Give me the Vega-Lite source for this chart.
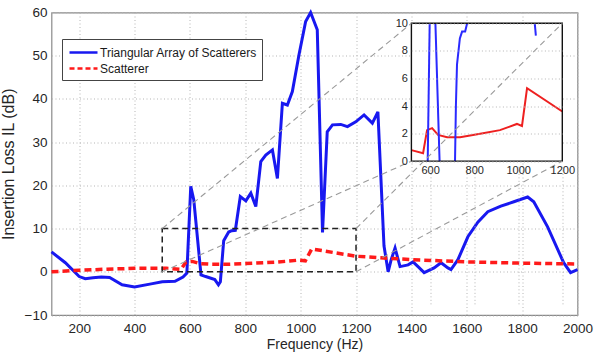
{
  "$schema": "https://vega.github.io/schema/vega-lite/v6.json",
  "width": 526,
  "height": 302.5,
  "autosize": "none",
  "padding": {"left": 51.5, "top": 12.5, "right": 18.5, "bottom": 43},
  "background": "white",
  "config": {
    "view": {"stroke": "#8a8a8a", "strokeWidth": 1.2},
    "font": "Liberation Sans",
    "axis": {
      "labelFont": "Liberation Sans",
      "titleFont": "Liberation Sans",
      "labelColor": "#262626",
      "titleColor": "#262626",
      "titleFontWeight": "normal",
      "gridColor": "#b5b5b5",
      "gridDash": [1, 2.5],
      "domain": false,
      "ticks": false
    }
  },
  "datasets": {
    "curves": [
      {"f": 100, "il": 4.6, "series": "Triangular Array of Scatterers"},
      {"f": 150, "il": 2.1, "series": "Triangular Array of Scatterers"},
      {"f": 200, "il": -1.1, "series": "Triangular Array of Scatterers"},
      {"f": 222, "il": -1.6, "series": "Triangular Array of Scatterers"},
      {"f": 250, "il": -1.4, "series": "Triangular Array of Scatterers"},
      {"f": 280, "il": -1.2, "series": "Triangular Array of Scatterers"},
      {"f": 310, "il": -1.3, "series": "Triangular Array of Scatterers"},
      {"f": 355, "il": -3.0, "series": "Triangular Array of Scatterers"},
      {"f": 400, "il": -3.5, "series": "Triangular Array of Scatterers"},
      {"f": 460, "il": -2.8, "series": "Triangular Array of Scatterers"},
      {"f": 500, "il": -2.3, "series": "Triangular Array of Scatterers"},
      {"f": 546, "il": -2.2, "series": "Triangular Array of Scatterers"},
      {"f": 575, "il": -1.2, "series": "Triangular Array of Scatterers"},
      {"f": 589, "il": -0.3, "series": "Triangular Array of Scatterers"},
      {"f": 603, "il": 19.8, "series": "Triangular Array of Scatterers"},
      {"f": 614, "il": 16.6, "series": "Triangular Array of Scatterers"},
      {"f": 640, "il": -0.7, "series": "Triangular Array of Scatterers"},
      {"f": 657, "il": -1.1, "series": "Triangular Array of Scatterers"},
      {"f": 690, "il": -1.8, "series": "Triangular Array of Scatterers"},
      {"f": 703, "il": -3.0, "series": "Triangular Array of Scatterers"},
      {"f": 710, "il": -2.3, "series": "Triangular Array of Scatterers"},
      {"f": 722, "il": 7.2, "series": "Triangular Array of Scatterers"},
      {"f": 740, "il": 9.2, "series": "Triangular Array of Scatterers"},
      {"f": 751, "il": 9.5, "series": "Triangular Array of Scatterers"},
      {"f": 764, "il": 9.6, "series": "Triangular Array of Scatterers"},
      {"f": 782, "il": 17.4, "series": "Triangular Array of Scatterers"},
      {"f": 802, "il": 16.4, "series": "Triangular Array of Scatterers"},
      {"f": 820, "il": 18.2, "series": "Triangular Array of Scatterers"},
      {"f": 838, "il": 15.1, "series": "Triangular Array of Scatterers"},
      {"f": 856, "il": 25.5, "series": "Triangular Array of Scatterers"},
      {"f": 874, "il": 27.0, "series": "Triangular Array of Scatterers"},
      {"f": 898, "il": 28.2, "series": "Triangular Array of Scatterers"},
      {"f": 916, "il": 21.6, "series": "Triangular Array of Scatterers"},
      {"f": 934, "il": 39.0, "series": "Triangular Array of Scatterers"},
      {"f": 952, "il": 38.6, "series": "Triangular Array of Scatterers"},
      {"f": 970, "il": 41.7, "series": "Triangular Array of Scatterers"},
      {"f": 994, "il": 50.2, "series": "Triangular Array of Scatterers"},
      {"f": 1018, "il": 57.9, "series": "Triangular Array of Scatterers"},
      {"f": 1036, "il": 60.0, "series": "Triangular Array of Scatterers"},
      {"f": 1060, "il": 56.0, "series": "Triangular Array of Scatterers"},
      {"f": 1079, "il": 9.1, "series": "Triangular Array of Scatterers"},
      {"f": 1096, "il": 32.4, "series": "Triangular Array of Scatterers"},
      {"f": 1115, "il": 34.0, "series": "Triangular Array of Scatterers"},
      {"f": 1145, "il": 34.1, "series": "Triangular Array of Scatterers"},
      {"f": 1169, "il": 33.6, "series": "Triangular Array of Scatterers"},
      {"f": 1199, "il": 34.7, "series": "Triangular Array of Scatterers"},
      {"f": 1229, "il": 36.3, "series": "Triangular Array of Scatterers"},
      {"f": 1259, "il": 34.4, "series": "Triangular Array of Scatterers"},
      {"f": 1279, "il": 37.0, "series": "Triangular Array of Scatterers"},
      {"f": 1301, "il": 6.0, "series": "Triangular Array of Scatterers"},
      {"f": 1316, "il": 0.0, "series": "Triangular Array of Scatterers"},
      {"f": 1327, "il": 2.8, "series": "Triangular Array of Scatterers"},
      {"f": 1341, "il": 5.5, "series": "Triangular Array of Scatterers"},
      {"f": 1359, "il": 1.2, "series": "Triangular Array of Scatterers"},
      {"f": 1388, "il": 1.6, "series": "Triangular Array of Scatterers"},
      {"f": 1406, "il": 2.3, "series": "Triangular Array of Scatterers"},
      {"f": 1424, "il": 1.2, "series": "Triangular Array of Scatterers"},
      {"f": 1446, "il": -0.2, "series": "Triangular Array of Scatterers"},
      {"f": 1482, "il": 0.9, "series": "Triangular Array of Scatterers"},
      {"f": 1507, "il": 2.1, "series": "Triangular Array of Scatterers"},
      {"f": 1532, "il": 0.9, "series": "Triangular Array of Scatterers"},
      {"f": 1543, "il": 0.5, "series": "Triangular Array of Scatterers"},
      {"f": 1568, "il": 2.8, "series": "Triangular Array of Scatterers"},
      {"f": 1604, "il": 8.1, "series": "Triangular Array of Scatterers"},
      {"f": 1640, "il": 11.5, "series": "Triangular Array of Scatterers"},
      {"f": 1676, "il": 13.9, "series": "Triangular Array of Scatterers"},
      {"f": 1723, "il": 15.2, "series": "Triangular Array of Scatterers"},
      {"f": 1770, "il": 16.2, "series": "Triangular Array of Scatterers"},
      {"f": 1820, "il": 17.3, "series": "Triangular Array of Scatterers"},
      {"f": 1842, "il": 16.2, "series": "Triangular Array of Scatterers"},
      {"f": 1892, "il": 10.4, "series": "Triangular Array of Scatterers"},
      {"f": 1950, "il": 2.1, "series": "Triangular Array of Scatterers"},
      {"f": 1975, "il": -0.2, "series": "Triangular Array of Scatterers"},
      {"f": 2000, "il": 0.5, "series": "Triangular Array of Scatterers"},
      {"f": 100, "il": 0.0, "series": "Scatterer"},
      {"f": 200, "il": 0.35, "series": "Scatterer"},
      {"f": 300, "il": 0.6, "series": "Scatterer"},
      {"f": 400, "il": 0.8, "series": "Scatterer"},
      {"f": 515, "il": 0.8, "series": "Scatterer"},
      {"f": 568, "il": 0.58, "series": "Scatterer"},
      {"f": 586, "il": 2.25, "series": "Scatterer"},
      {"f": 609, "il": 2.4, "series": "Scatterer"},
      {"f": 636, "il": 1.9, "series": "Scatterer"},
      {"f": 677, "il": 1.74, "series": "Scatterer"},
      {"f": 736, "il": 1.74, "series": "Scatterer"},
      {"f": 840, "il": 2.03, "series": "Scatterer"},
      {"f": 917, "il": 2.25, "series": "Scatterer"},
      {"f": 994, "il": 2.7, "series": "Scatterer"},
      {"f": 1017, "il": 2.55, "series": "Scatterer"},
      {"f": 1040, "il": 5.3, "series": "Scatterer"},
      {"f": 1200, "il": 3.6, "series": "Scatterer"},
      {"f": 1400, "il": 2.8, "series": "Scatterer"},
      {"f": 1600, "il": 2.3, "series": "Scatterer"},
      {"f": 1800, "il": 2.0, "series": "Scatterer"},
      {"f": 2000, "il": 1.8, "series": "Scatterer"}
    ],
    "insetred": [
      {"f": 515, "il": 0.8},
      {"f": 568, "il": 0.58},
      {"f": 586, "il": 2.25},
      {"f": 609, "il": 2.4},
      {"f": 636, "il": 1.9},
      {"f": 677, "il": 1.74},
      {"f": 736, "il": 1.74},
      {"f": 840, "il": 2.03},
      {"f": 917, "il": 2.25},
      {"f": 994, "il": 2.7},
      {"f": 1017, "il": 2.55},
      {"f": 1040, "il": 5.3},
      {"f": 1200, "il": 3.6}
    ],
    "insetblue": [
      {"f": 589, "il": 0, "seg": "a"},
      {"f": 598, "il": 10, "seg": "a"},
      {"f": 624, "il": 10, "seg": "b"},
      {"f": 643, "il": 0, "seg": "b"},
      {"f": 713, "il": 0, "seg": "c"},
      {"f": 717, "il": 4, "seg": "c"},
      {"f": 722, "il": 7, "seg": "c"},
      {"f": 735, "il": 8.9, "seg": "c"},
      {"f": 745, "il": 9.4, "seg": "c"},
      {"f": 759, "il": 9.4, "seg": "c"},
      {"f": 768, "il": 10, "seg": "c"},
      {"f": 1075, "il": 10, "seg": "d"},
      {"f": 1080, "il": 9.1, "seg": "d"}
    ],
    "zoombox": [{"x": 500, "x2": 1200, "y": 0, "y2": 10}],
    "insetbox": [{"x": 515, "x2": 1200, "y": 0, "y2": 10}],
    "conn": [
      {"x": 500, "y": 10, "x2": 1400, "y2": 57.5},
      {"x": 500, "y": 0, "x2": 1400, "y2": 25.6},
      {"x": 1200, "y": 10, "x2": 1945, "y2": 57.5},
      {"x": 1200, "y": 0, "x2": 1945, "y2": 25.6}
    ]
  },
  "layer": [
    {
      "data": {"name": "curves"},
      "transform": [{"filter": "datum.series === 'Triangular Array of Scatterers'"}],
      "mark": {"type": "line", "strokeWidth": 3},
      "encoding": {
        "x": {
          "field": "f", "type": "quantitative",
          "scale": {"domain": [100, 2000], "nice": false, "zero": false},
          "axis": {
            "values": [200, 400, 600, 800, 1000, 1200, 1400, 1600, 1800, 2000],
            "format": "d",
            "grid": true, "labelPadding": 6, "labelFontSize": 13.5,
            "labelFlush": false, "labelOverlap": false,
            "title": "Frequency (Hz)", "titleFontSize": 14, "titlePadding": 3
          }
        },
        "y": {
          "field": "il", "type": "quantitative",
          "scale": {"domain": [-10, 60], "nice": false, "zero": false},
          "axis": {
            "values": [-10, 0, 10, 20, 30, 40, 50, 60],
            "format": "d",
            "grid": true, "labelPadding": 4.5, "labelFontSize": 13.5,
            "labelFlush": false, "labelOverlap": false,
            "title": "Insertion Loss IL (dB)", "titleFontSize": 16, "titlePadding": 8
          }
        },
        "color": {
          "field": "series", "type": "nominal",
          "scale": {"domain": ["Triangular Array of Scatterers", "Scatterer"], "range": ["#1818f0", "#ff1a1a"]},
          "legend": {
            "title": null, "orient": "none", "legendX": 10.5, "legendY": 26.5,
            "fillColor": "white", "strokeColor": "#444444", "padding": 5,
            "labelFontSize": 12, "labelFont": "Liberation Sans", "labelColor": "#1a1a1a",
            "symbolType": "M-2,0H2", "symbolSize": 196, "symbolStrokeWidth": 2.5,
            "symbolOffset": 8, "labelOffset": 8, "rowPadding": 1,
            "encode": {
              "symbols": {
                "update": {
                  "strokeDash": {"signal": "datum.value === 'Scatterer' ? [5, 3] : [1, 0]"}
                }
              }
            }
          }
        }
      }
    },
    {
      "data": {"name": "curves"},
      "transform": [{"filter": "datum.series === 'Scatterer'"}],
      "mark": {"type": "line", "strokeWidth": 3.5, "strokeDash": [7, 4]},
      "encoding": {
        "x": {"field": "f", "type": "quantitative", "scale": {"domain": [100, 2000], "nice": false, "zero": false}, "axis": null},
        "y": {"field": "il", "type": "quantitative", "scale": {"domain": [-10, 60], "nice": false, "zero": false}, "axis": null},
        "color": {"field": "series", "type": "nominal", "scale": {"domain": ["Triangular Array of Scatterers", "Scatterer"], "range": ["#1818f0", "#ff1a1a"]}, "legend": null}
      }
    },
    {
      "data": {"name": "zoombox"},
      "mark": {"type": "rect", "fill": "white", "fillOpacity": 0, "stroke": "#222222", "strokeDash": [6, 4], "strokeWidth": 1.5},
      "encoding": {
        "x": {"field": "x", "type": "quantitative", "scale": {"domain": [100, 2000], "nice": false, "zero": false}, "axis": null},
        "x2": {"field": "x2"},
        "y": {"field": "y", "type": "quantitative", "scale": {"domain": [-10, 60], "nice": false, "zero": false}, "axis": null},
        "y2": {"field": "y2"}
      }
    },
    {
      "data": {"name": "insetbox"},
      "mark": {"type": "rect", "fill": "white", "strokeOpacity": 0},
      "encoding": {
        "x": {
          "field": "x", "type": "quantitative",
          "scale": {"domain": [515, 1200], "range": [359.9, 510.8], "nice": false, "zero": false},
          "axis": {
            "orient": "bottom", "offset": -153.84, "values": [600, 800, 1000, 1200],
            "format": "d",
            "grid": true, "zindex": 1, "labelPadding": 3, "labelFontSize": 11,
            "labelFlush": false, "labelOverlap": false, "title": null
          }
        },
        "x2": {"field": "x2"},
        "y": {
          "field": "y", "type": "quantitative",
          "scale": {"domain": [0, 10], "range": [148.66, 10.8], "nice": false, "zero": false},
          "axis": {
            "orient": "left", "offset": -359.9, "values": [0, 2, 4, 6, 8, 10],
            "format": "d",
            "grid": true, "zindex": 1, "labelPadding": 4, "labelFontSize": 11,
            "labelFlush": false, "labelOverlap": false, "title": null
          }
        },
        "y2": {"field": "y2"}
      }
    },
    {
      "data": {"name": "insetred"},
      "mark": {"type": "line", "color": "#ee2020", "strokeWidth": 2},
      "encoding": {
        "x": {"field": "f", "type": "quantitative", "scale": {"domain": [515, 1200], "range": [359.9, 510.8], "nice": false, "zero": false}, "axis": null},
        "y": {"field": "il", "type": "quantitative", "scale": {"domain": [0, 10], "range": [148.66, 10.8], "nice": false, "zero": false}, "axis": null}
      }
    },
    {
      "data": {"name": "insetblue"},
      "mark": {"type": "line", "color": "#2a2aff", "strokeWidth": 2},
      "encoding": {
        "x": {"field": "f", "type": "quantitative", "scale": {"domain": [515, 1200], "range": [359.9, 510.8], "nice": false, "zero": false}, "axis": null},
        "y": {"field": "il", "type": "quantitative", "scale": {"domain": [0, 10], "range": [148.66, 10.8], "nice": false, "zero": false}, "axis": null},
        "detail": {"field": "seg", "type": "nominal"}
      }
    },
    {
      "data": {"name": "insetbox"},
      "mark": {"type": "rect", "fill": "white", "fillOpacity": 0, "stroke": "#111111", "strokeWidth": 1.4},
      "encoding": {
        "x": {"field": "x", "type": "quantitative", "scale": {"domain": [515, 1200], "range": [359.9, 510.8], "nice": false, "zero": false}, "axis": null},
        "x2": {"field": "x2"},
        "y": {"field": "y", "type": "quantitative", "scale": {"domain": [0, 10], "range": [148.66, 10.8], "nice": false, "zero": false}, "axis": null},
        "y2": {"field": "y2"}
      }
    },
    {
      "data": {"name": "conn"},
      "mark": {"type": "rule", "color": "#9a9a9a", "strokeDash": [6, 4], "strokeWidth": 1.1},
      "encoding": {
        "x": {"field": "x", "type": "quantitative", "scale": {"domain": [100, 2000], "nice": false, "zero": false}, "axis": null},
        "x2": {"field": "x2"},
        "y": {"field": "y", "type": "quantitative", "scale": {"domain": [-10, 60], "nice": false, "zero": false}, "axis": null},
        "y2": {"field": "y2"}
      }
    }
  ],
  "resolve": {
    "scale": {"x": "independent", "y": "independent", "color": "independent"},
    "axis": {"x": "independent", "y": "independent"}
  }
}
